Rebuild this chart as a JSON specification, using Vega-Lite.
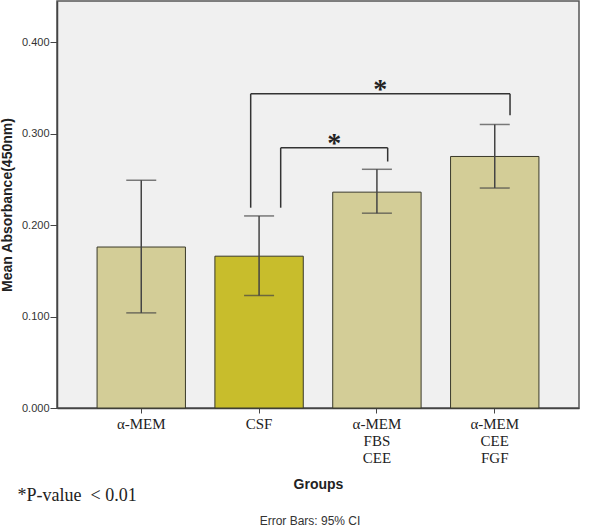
{
  "$schema": "https://vega.github.io/schema/vega-lite/v6.json",
  "autosize": "none",
  "width": 522,
  "height": 407,
  "padding": {"left": 57, "top": 1, "right": 21, "bottom": 121},
  "background": "#ffffff",
  "config": {
    "view": {"fill": "#f0f0f0", "stroke": "#555555", "strokeWidth": 1.5}
  },
  "title": {
    "text": "Error Bars: 95% CI",
    "orient": "bottom",
    "anchor": "middle",
    "frame": "group",
    "font": "Liberation Sans",
    "fontSize": 12,
    "fontWeight": "normal",
    "color": "#333333",
    "offset": 12,
    "dx": -8
  },
  "datasets": {
    "bars": [
      {"group": "α-MEM", "mean": 0.176, "lo": 0.104, "hi": 0.249},
      {"group": "CSF", "mean": 0.166, "lo": 0.123, "hi": 0.210},
      {"group": "α-MEM FBS CEE", "mean": 0.236, "lo": 0.213, "hi": 0.261},
      {"group": "α-MEM CEE FGF", "mean": 0.275, "lo": 0.2405, "hi": 0.310}
    ],
    "brackets": [
      {"x": 0.929, "x2": 0.929, "y": 0.219, "y2": 0.3435},
      {"x": 0.929, "x2": 3.125, "y": 0.3435, "y2": 0.3435},
      {"x": 3.125, "x2": 3.125, "y": 0.3435, "y2": 0.320},
      {"x": 1.183, "x2": 1.183, "y": 0.219, "y2": 0.2845},
      {"x": 1.183, "x2": 2.089, "y": 0.2845, "y2": 0.2845},
      {"x": 2.089, "x2": 2.089, "y": 0.2845, "y2": 0.2695}
    ],
    "stars": [
      {"x": 2.027, "y": 0.3435, "label": "*"},
      {"x": 1.636, "y": 0.2845, "label": "*"}
    ]
  },
  "layer": [
    {
      "data": {"name": "bars"},
      "encoding": {
        "x": {
          "field": "group",
          "type": "nominal",
          "sort": null,
          "scale": {"paddingInner": 0.25, "paddingOuter": 0.34},
          "axis": {
            "title": "Groups",
            "titleFont": "Liberation Sans",
            "titleFontSize": 14,
            "titleFontWeight": "bold",
            "titleColor": "#222222",
            "titlePadding": 12,
            "labelAngle": 0,
            "labelExpr": "split(datum.value, ' ')",
            "labelFont": "Liberation Serif",
            "labelFontSize": 15,
            "labelLineHeight": 17,
            "labelColor": "#222222",
            "labelPadding": 3,
            "tickSize": 5,
            "tickColor": "#444444",
            "domainColor": "#444444",
            "domainWidth": 1.5
          }
        }
      },
      "layer": [
        {
          "mark": {"type": "bar", "stroke": "#3a3a2a", "strokeWidth": 1},
          "encoding": {
            "y": {
              "field": "mean",
              "type": "quantitative",
              "scale": {"domain": [0, 0.445], "nice": false},
              "axis": {
                "title": "Mean Absorbance(450nm)",
                "titleFont": "Liberation Sans",
                "titleFontSize": 14,
                "titleFontWeight": "bold",
                "titleColor": "#222222",
                "titlePadding": 7,
                "values": [0, 0.1, 0.2, 0.3, 0.4],
                "format": ".3f",
                "labelFont": "Liberation Sans",
                "labelFontSize": 11,
                "labelColor": "#333333",
                "labelPadding": 1,
                "tickSize": 7,
                "tickColor": "#444444",
                "domainColor": "#444444",
                "domainWidth": 1.5,
                "grid": false
              }
            },
            "color": {
              "field": "group",
              "type": "nominal",
              "scale": {
                "domain": ["α-MEM", "CSF", "α-MEM FBS CEE", "α-MEM CEE FGF"],
                "range": ["#d3cd97", "#c8bd2c", "#d3cd97", "#d3cd97"]
              },
              "legend": null
            }
          }
        },
        {
          "mark": {"type": "rule", "color": "#444444", "strokeWidth": 1.5},
          "encoding": {
            "y": {"field": "lo", "type": "quantitative"},
            "y2": {"field": "hi"}
          }
        },
        {
          "mark": {"type": "tick", "color": "#444444", "thickness": 1.5, "size": 30},
          "encoding": {"y": {"field": "hi", "type": "quantitative"}}
        },
        {
          "mark": {"type": "tick", "color": "#444444", "thickness": 1.5, "size": 30},
          "encoding": {"y": {"field": "lo", "type": "quantitative"}}
        }
      ]
    },
    {
      "encoding": {
        "x": {
          "field": "x",
          "type": "quantitative",
          "scale": {"domain": [-0.711, 3.709], "nice": false, "zero": false},
          "axis": {
            "orient": "top",
            "labels": false,
            "ticks": false,
            "domain": false,
            "grid": false,
            "title": "*P-value\u00a0\u00a0< 0.01",
            "titleFont": "Liberation Serif",
            "titleFontSize": 18,
            "titleFontWeight": "normal",
            "titleColor": "#222222",
            "titleAnchor": "start",
            "titleAlign": "left",
            "titleBaseline": "middle",
            "titleX": -40,
            "titleY": 494
          }
        },
        "y": {"field": "y", "type": "quantitative"}
      },
      "layer": [
        {
          "data": {"name": "brackets"},
          "mark": {"type": "rule", "color": "#333333", "strokeWidth": 1.5},
          "encoding": {
            "x2": {"field": "x2"},
            "y2": {"field": "y2"}
          }
        },
        {
          "data": {"name": "stars"},
          "mark": {"type": "text", "font": "Liberation Serif", "fontSize": 28, "fontWeight": "bold", "color": "#222222", "baseline": "alphabetic", "dy": 4},
          "encoding": {"text": {"field": "label"}}
        }
      ]
    }
  ],
  "resolve": {"scale": {"x": "independent"}, "axis": {"x": "independent"}}
}
